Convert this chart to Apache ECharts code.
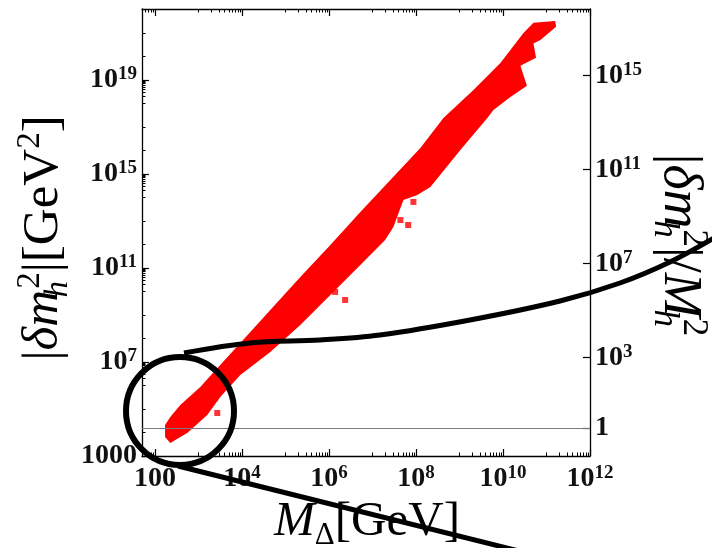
<!DOCTYPE html>
<html>
<head>
<meta charset="utf-8">
<script src="https://cdn.jsdelivr.net/npm/echarts@6/dist/echarts.min.js"></script>
<style>
html, body { margin: 0; padding: 0; background: #fff; }
#main { width: 712px; height: 548px; }
</style>
</head>
<body>
<div id="main"></div>
<script>
// all values are log10 exponents
var xTickExp = [2, 4, 6, 8, 10, 12];
var yTickExp = [3, 7, 11, 15, 19];
var rTickExp = [0, 3, 7, 11, 15];
var xMin = 1.70, xMax = 12;
var yMin = 3, yMax = 22.02;
var logMh2 = 4.194; // M_h = 125 GeV

// outline of the dense red cloud: upper edge from the low end up, then lower edge back down
var bandUpperM = [2.23, 2.23, 2.35, 2.58, 3.04, 3.33, 3.96, 4.65, 5.34, 6.03, 6.72, 7.41, 8.10, 8.63, 9.32, 9.94, 10.47, 10.70, 11.20, 11.22];
var bandUpperD = [3.81, 4.32, 4.66, 5.17, 5.94, 6.53, 7.81, 9.21, 10.62, 11.98, 13.38, 14.74, 16.11, 17.38, 18.57, 19.72, 21.00, 21.43, 21.51, 21.26];
var bandLowerM = [10.86, 10.70, 10.76, 10.40, 10.55, 10.17, 9.78, 9.64, 9.02, 8.33, 8.03, 7.71, 7.48, 7.29, 6.72, 6.03, 5.34, 4.65, 3.96, 3.50, 3.20, 2.74, 2.35];
var bandLowerD = [20.70, 20.55, 19.95, 19.60, 18.75, 18.28, 17.72, 17.38, 16.02, 14.45, 14.11, 13.89, 12.74, 12.19, 11.13, 9.85, 8.57, 7.43, 6.45, 5.51, 4.74, 3.98, 3.55];

// isolated points off the band
var strayM = [3.43, 3.38, 4.37, 4.46, 6.14, 6.37, 7.94, 7.82, 7.64];
var strayD = [4.83, 5.47, 7.60, 7.94, 9.98, 9.64, 13.81, 12.83, 13.04];

var serif = '"Liberation Serif", "DejaVu Serif", serif';

var bandPoly = [];
for (var i = 0; i < bandUpperM.length; i++) bandPoly.push([bandUpperM[i], bandUpperD[i]]);
for (var j = 0; j < bandLowerM.length; j++) bandPoly.push([bandLowerM[j], bandLowerD[j]]);
var strayData = strayM.map(function (m, k) { return [m, strayD[k]]; });

// minor ticks like the original: each skipped decade plus 2..9 before the next major
function minorTicks(majors, step, lo, hi) {
    var out = [];
    var start = majors[0] - step;
    for (var e = start; e <= majors[majors.length - 1]; e += step) {
        for (var d = 1; d < step; d++) out.push(e + d);
        for (var k = 2; k < 10; k++) out.push(e + step - 1 + Math.log10(k));
    }
    return out.filter(function (v) { return v > lo && v < hi; });
}
var xMinor = minorTicks(xTickExp, 2, xMin, xMax);
var yMinor = minorTicks(yTickExp, 4, yMin, yMax);

// left and bottom axes write 100 and 1000 in full, the right axis only 1
function expLabel(v) {
    var e = Math.round(v);
    if (e === 2) return '{b|100}';
    if (e === 3) return '{b|1000}';
    return '{b|10}{s|' + e + '}';
}
function ratioLabel(v) {
    var e = Math.round(v);
    if (e === 0) return '{b|1}';
    return '{b|10}{s|' + e + '}';
}
var labelRich = {
    b: { fontFamily: serif, fontWeight: 'bold', fontSize: 28, lineHeight: 30, color: '#111' },
    s: { fontFamily: serif, fontWeight: 'bold', fontSize: 19, lineHeight: 19, verticalAlign: 'top', color: '#111' }
};
var frameLine = { onZero: false, lineStyle: { color: '#000', width: 1.3 } };

function axis(pos, min, max, ticks, labels, margin, fmt) {
    return {
        type: 'value', position: pos, min: min, max: max,
        axisLine: frameLine,
        axisTick: { inside: true, length: 7, customValues: ticks, lineStyle: { color: '#000', width: 1.2 } },
        axisLabel: labels ? { customValues: labels, formatter: fmt, rich: labelRich, margin: margin } : { show: false },
        splitLine: { show: false }
    };
}
function minorAxis(pos, min, max, ticks) {
    return {
        type: 'value', position: pos, min: min, max: max,
        axisLine: { show: false, onZero: false },
        axisTick: { inside: true, length: 3.5, customValues: ticks, lineStyle: { color: '#000', width: 1 } },
        axisLabel: { show: false },
        splitLine: { show: false }
    };
}

function titleRich(size) {
    var small = Math.round(size * 0.64);
    return {
        n: { fontFamily: serif, fontSize: size, lineHeight: size + 10, color: '#000' },
        i: { fontFamily: serif, fontStyle: 'italic', fontSize: size, lineHeight: size + 10, color: '#000' },
        sb: { fontFamily: serif, fontStyle: 'italic', fontSize: small, lineHeight: small, verticalAlign: 'bottom', width: 1, color: '#000' },
        sd: { fontFamily: serif, fontSize: small, lineHeight: small, verticalAlign: 'bottom', color: '#000' },
        sp: { fontFamily: serif, fontSize: small, lineHeight: small, verticalAlign: 'top', color: '#000' }
    };
}

var chart = echarts.init(document.getElementById('main'));
chart.setOption({
    animation: false,
    grid: { left: 142, right: 122, top: 9, bottom: 92 },
    xAxis: [
        axis('bottom', xMin, xMax, xTickExp, xTickExp, 8, expLabel),
        axis('top', xMin, xMax, xTickExp, null),
        minorAxis('bottom', xMin, xMax, xMinor),
        minorAxis('top', xMin, xMax, xMinor)
    ],
    yAxis: [
        axis('left', yMin, yMax, yTickExp, yTickExp, 5, expLabel),
        axis('right', yMin - logMh2, yMax - logMh2, rTickExp, rTickExp, 5, ratioLabel),
        minorAxis('left', yMin, yMax, yMinor)
    ],
    series: [
        {
            type: 'line', data: [], z: 1,
            markLine: {
                silent: true, symbol: ['none', 'none'], label: { show: false },
                lineStyle: { color: '#7a7a7a', width: 1, type: 'solid' },
                data: [{ yAxis: logMh2 }]
            }
        },
        {
            type: 'custom', z: 2, clip: true,
            data: [bandPoly[0]],
            renderItem: function (params, api) {
                return {
                    type: 'polygon',
                    shape: { points: bandPoly.map(function (p) { return api.coord(p); }) },
                    style: { fill: '#ff0000' }
                };
            }
        },
        {
            type: 'scatter', z: 3, symbol: 'rect', symbolSize: 6,
            itemStyle: { color: '#ff0000' },
            data: strayData
        }
    ],
    graphic: [
        { type: 'circle', z: 100, shape: { cx: 180, cy: 411, r: 54 }, style: { fill: null, stroke: '#000', lineWidth: 6 } },
        { type: 'polyline', z: 100, shape: { points: [[184, 353], [250, 343], [320, 340], [380, 335], [470, 320], [560, 301], [620, 283], [670, 262], [714, 238]], smooth: 0.35 }, style: { fill: null, stroke: '#000', lineWidth: 5 } },
        { type: 'line', z: 100, shape: { x1: 178, y1: 466, x2: 535, y2: 555 }, style: { stroke: '#000', lineWidth: 5 } },
        { type: 'text', z: 50, x: 44, y: 238, rotation: Math.PI / 2,
          style: { text: '{n||}{i|δm}{sb|h}{sp|2}{n||[GeV}{sp|2}{n|]}', rich: titleRich(51), align: 'center', verticalAlign: 'middle' } },
        { type: 'text', z: 50, x: 679, y: 245, rotation: -Math.PI / 2,
          style: { text: '{n||}{i|δm}{sb|h}{sp|2}{n||/}{i|M}{sb|h}{sp|2}', rich: titleRich(54), align: 'center', verticalAlign: 'middle' } },
        { type: 'text', z: 50, x: 367, y: 522,
          style: { text: '{i|M}{sd|Δ}{n|[GeV]}', rich: titleRich(49), align: 'center', verticalAlign: 'middle' } }
    ]
});
</script>
</body>
</html>
